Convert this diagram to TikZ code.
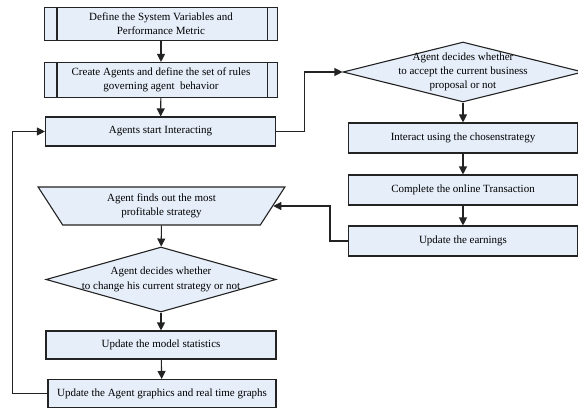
\documentclass[tikz,border=0pt]{standalone}
\usepackage{fontspec}
\setmainfont{Liberation Serif}
\usetikzlibrary{shapes.geometric,arrows.meta}
\definecolor{boxfill}{RGB}{230,238,249}
\definecolor{boxline}{RGB}{35,35,35}

\begin{document}
\begin{tikzpicture}[x=1pt,y=-1pt,line width=1.1pt,
    every node/.style={draw=boxline,fill=boxfill,align=center,
        font=\fontsize{11}{14.3}\selectfont,inner sep=0pt},
    box/.style={rectangle,minimum width=229pt,minimum height=30pt},
    decision/.style={diamond,inner sep=-30pt},
    trap/.style={trapezium,shape border rotate=180,trapezium left angle=61,
        trapezium right angle=61,trapezium stretches=true,inner sep=0pt},
    arr/.style={-{Triangle[length=8pt,width=8pt]},draw=boxline}]
    \useasboundingbox (0,0) rectangle (578,409);

    \node[box,minimum width=233pt,minimum height=33pt] (def) at (161,24)
        {Define the System Variables and\\Performance Metric};
    \node[box,minimum width=233pt,minimum height=35pt] (create) at (161,80)
        {Create Agents and define the set of rules\\governing agent\ \ behavior};
    \node[box,minimum width=230pt,minimum height=29pt] (start) at (160.5,131.5)
        {Agents start Interacting};
    \node[decision,minimum width=240pt,minimum height=60pt] (accept) at (463,72)
        {Agent decides whether\\to accept the current business\\proposal or not};
    \node[box] (inter) at (463,138) {Interact using the chosenstrategy};
    \node[box] (compl) at (463,190) {Complete the online Transaction};
    \node[box] (earn) at (463,241) {Update the earnings};
    \node[trap,minimum width=247pt,minimum height=38pt] (find) at (161.5,206)
        {Agent finds out the most\\profitable strategy};
    \node[decision,minimum width=230pt,minimum height=65pt] (change) at (161,279.5)
        {Agent decides whether\\to change his current strategy or not};
    \node[box,minimum width=230pt,minimum height=28pt] (stats) at (161,345)
        {Update the model statistics};
    \node[box,minimum width=228pt,minimum height=28pt] (graph) at (162,393.5)
        {Update the Agent graphics and real time graphs};

    % side bars of the predefined process boxes
    \draw[draw=boxline]
        ([xshift=13pt]def.north west) -- ([xshift=13pt]def.south west)
        ([xshift=-11pt]def.north east) -- ([xshift=-11pt]def.south east)
        ([xshift=13pt]create.north west) -- ([xshift=13pt]create.south west)
        ([xshift=-11pt]create.north east) -- ([xshift=-11pt]create.south east);

    \draw[arr] (def) -- (create);
    \draw[arr] (create) -- (start);
    \draw[arr] (start.east) -- ++(28,0) |- (accept.west);
    \draw[arr] (accept) -- (inter);
    \draw[arr] (inter) -- (compl);
    \draw[arr] (compl) -- (earn);
    \draw[arr] (earn.west) -- ++(-18,0) |- (find.east);
    \draw[arr] (find) -- (change);
    \draw[arr] (change) -- (stats);
    \draw[arr] (stats) -- (graph);
    \draw[arr] (graph.west) -- ++(-35,0) |- (start.west);
\end{tikzpicture}
\end{document}
